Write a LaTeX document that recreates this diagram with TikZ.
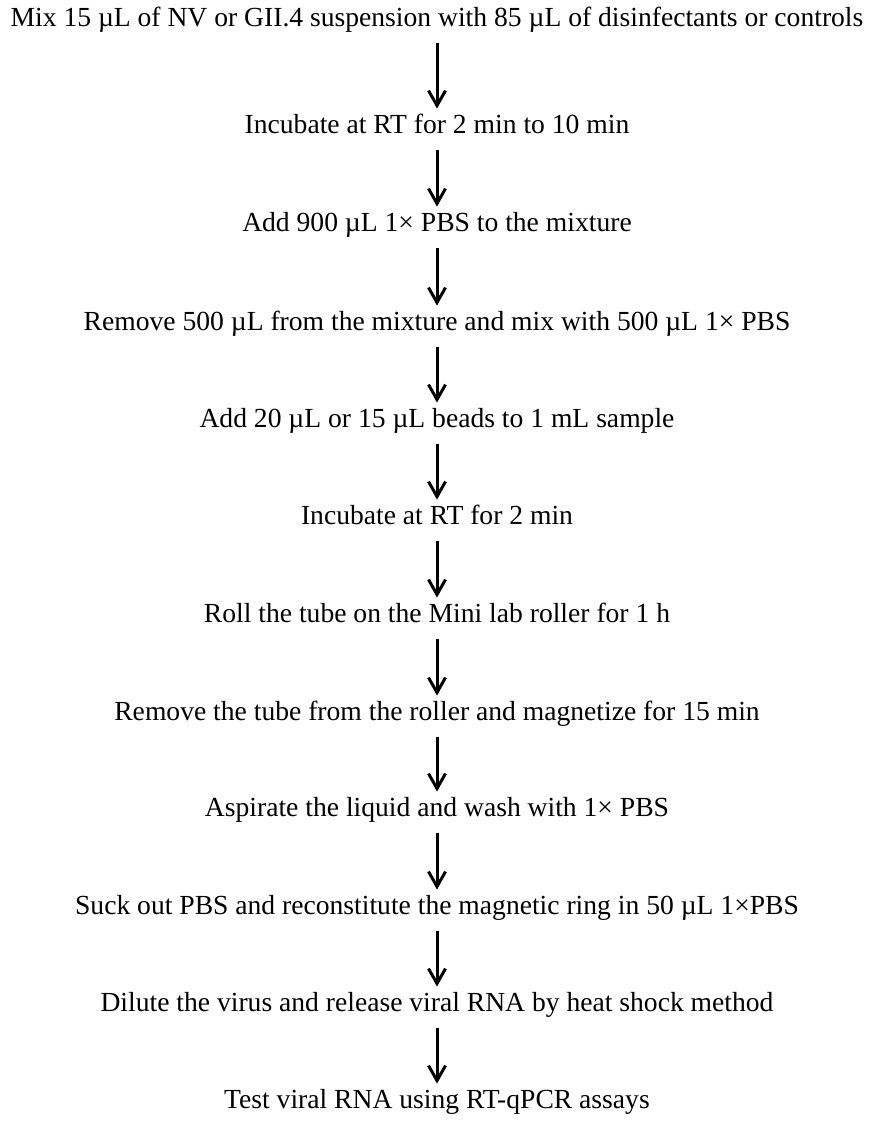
\documentclass[tikz,border=0pt]{standalone}
\usepackage{fontspec}
\setmainfont{Liberation Serif}
\usetikzlibrary{arrows.meta,positioning}
\tikzset{
    % one protocol step, plain text without frame
    steptext/.style={
        anchor=base, inner sep=0pt,
        text height=0.7em, text depth=0.2em,
        font=\fontsize{13.8}{16}\selectfont
    },
    % downward arrow between steps
    flowarrow/.style={
        -{Straight Barb[length=7.5pt,width=8.5pt]}, line width=1.5pt,
        shorten <=6.5pt, shorten >=5pt
    },
}

\begin{document}
\begin{tikzpicture}[x=0.5pt,y=-0.5pt]
  \useasboundingbox (0,0) rectangle (874,1142);

  % the steps
  \node[steptext] (s1)  at (437,26)   {Mix 15 µL of NV or GII.4 suspension with 85 µL of disinfectants or controls};
  \node[steptext] (s2)  at (437,133)  {Incubate at RT for 2 min to 10 min};
  \node[steptext] (s3)  at (437,231)  {Add 900 µL 1× PBS to the mixture};
  \node[steptext] (s4)  at (437,330)  {Remove 500 µL from the mixture and mix with 500 µL 1× PBS};
  \node[steptext] (s5)  at (437,427)  {Add 20 µL or 15 µL beads to 1 mL sample};
  \node[steptext] (s6)  at (437,524)  {Incubate at RT for 2 min};
  \node[steptext] (s7)  at (437,622)  {Roll the tube on the Mini lab roller for 1 h};
  \node[steptext] (s8)  at (437,720)  {Remove the tube from the roller and magnetize for 15 min};
  \node[steptext] (s9)  at (437,816)  {Aspirate the liquid and wash with 1× PBS};
  \node[steptext] (s10) at (437,914)  {Suck out PBS and reconstitute the magnetic ring in 50 µL 1×PBS};
  \node[steptext] (s11) at (437,1011) {Dilute the virus and release viral RNA by heat shock method};
  \node[steptext] (s12) at (437,1108) {Test viral RNA using RT-qPCR assays};

  % arrows
  \foreach \i [count=\j from 2] in {1,...,11}
    \draw[flowarrow] (s\i) -- (s\j);
\end{tikzpicture}
\end{document}
